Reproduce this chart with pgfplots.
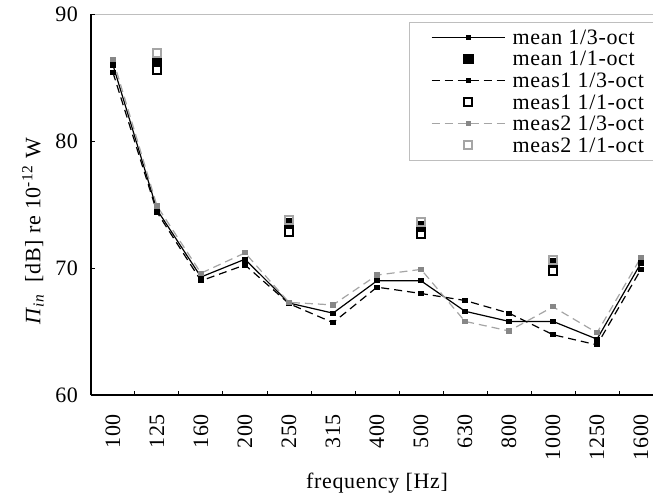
\documentclass[border=0pt]{standalone}
\usepackage{fontspec}
\setmainfont{Liberation Serif}[LetterSpace=3]
\usepackage{pgfplots}
\pgfplotsset{compat=1.18}
\definecolor{grayline}{RGB}{165,165,165}
\definecolor{graymark}{RGB}{135,135,135}
\definecolor{framegray}{RGB}{190,190,190}

\begin{document}
\begin{tikzpicture}
\begin{axis}[
  name=ax, at={(0,0)}, anchor=south west,
  scale only axis, width=286pt, height=190.35pt,
  xmin=-0.5, xmax=12.5, ymin=60, ymax=90,
  axis x line*=bottom, axis y line*=left,
  axis line style={-, line width=0.7pt},
  font=\fontsize{11}{11.5}\selectfont,
  /pgf/number format/assume math mode=true,
  xtick={0,...,12},
  xticklabels={100,125,160,200,250,315,400,500,630,800,1000,1250,1600},
  major x tick style={draw=none},
  minor xtick={-0.5,0.5,...,12.5},
  xticklabel style={rotate=90, anchor=east},
  xticklabel shift=6pt,
  ytick={60,70,80}, extra y ticks={90},
  extra y tick style={grid=major, major grid style={framegray, line width=0.8pt}},
  yticklabel shift=3pt,
  tick align=inside, major tick length=2.2pt, minor tick length=2.2pt,
  tick style={black, line width=0.5pt},
  xlabel={frequency [Hz]},
  xlabel style={at={(axis description cs:0.5,-0.2312)}, anchor=center},
  ylabel={\textit{Π}\textsubscript{\textit{in}}\hspace{0.5em}[dB] re 10\textsuperscript{-12} W},
  ylabel style={at={(axis description cs:-0.1014,0.43)}, anchor=center},
  legend cell align=left,
  legend style={at={(0.556,0.98)}, anchor=north west, draw=framegray, line width=0.6pt,
    inner xsep=4pt, inner ysep=2pt,
    nodes={inner ysep=1.5pt, inner xsep=2pt, text height=7.4pt, text depth=0.4pt}},
  legend image code/.code={%
    \path[draw=none, fill=none] (0pt,-1pt) rectangle (45.5pt,1pt);
    \draw[mark repeat=2,mark phase=2,#1] plot coordinates {(7pt,0pt) (25.25pt,0pt) (43.5pt,0pt)};},
]
% 1/3-octave bands, mean
\addplot[black, line width=0.6pt, mark=square*, mark size=1pt] coordinates {
  (0,86.0) (1,74.6) (2,69.3) (3,70.7) (4,67.25) (5,66.45) (6,69.0)
  (7,69.0) (8,66.6) (9,65.8) (10,65.8) (11,64.4) (12,70.4)};
\addlegendentry{mean 1/3-oct}
\addplot[black, only marks, mark=square*, mark size=2.4pt] coordinates {
  (1,86.33) (4,73.5) (7,73.3) (10,70.4)};
\addlegendentry{mean 1/1-oct}
% measurement 1
\addplot[black, line width=0.6pt, dash pattern=on 4pt off 2.5pt, mark=square*, mark size=1pt, mark options={solid}] coordinates {
  (0,85.4) (1,74.4) (2,69.0) (3,70.25) (4,67.2) (5,65.7) (6,68.5)
  (7,68.0) (8,67.45) (9,66.45) (10,64.75) (11,63.95) (12,69.9)};
\addlegendentry{meas1 1/3-oct}
\addplot[black, only marks, mark=square, mark size=2pt, mark options={fill=white, line width=1pt}] coordinates {
  (1,85.65) (4,72.83) (7,72.65) (10,69.8)};
\addlegendentry{meas1 1/1-oct}
% measurement 2
\addplot[grayline, line width=0.6pt, dash pattern=on 4pt off 2.5pt, mark=square*, mark size=1pt, mark options={solid, draw=graymark, fill=graymark}] coordinates {
  (0,86.45) (1,74.9) (2,69.6) (3,71.2) (4,67.3) (5,67.1) (6,69.45)
  (7,69.9) (8,65.8) (9,65.05) (10,66.95) (11,64.9) (12,70.85)};
\addlegendentry{meas2 1/3-oct}
\addplot[grayline, only marks, mark=square, mark size=2pt, mark options={fill=white, line width=1pt}] coordinates {
  (1,86.98) (4,73.8) (7,73.6) (10,70.6)};
\addlegendentry{meas2 1/1-oct}
\end{axis}
\pgfresetboundingbox
\path[use as bounding box] ([shift={(-45.5pt,-52pt)}]ax.south west) rectangle ([shift={(281pt,7.15pt)}]ax.north west);
\end{tikzpicture}
\end{document}
